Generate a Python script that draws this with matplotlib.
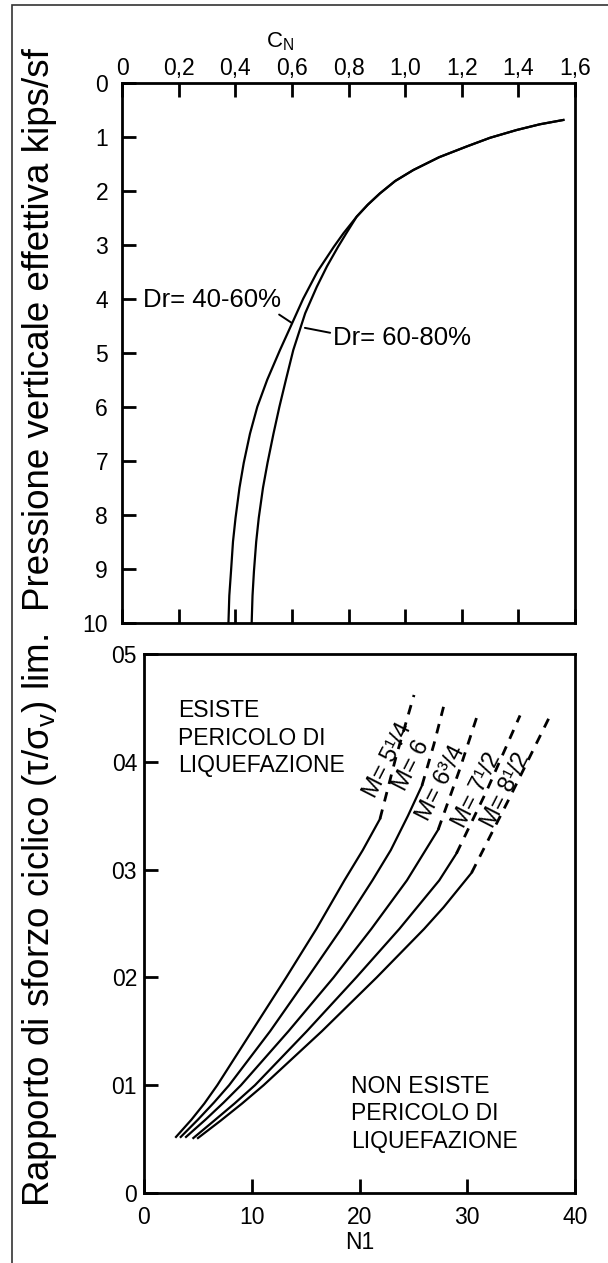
import matplotlib
matplotlib.use('Agg')
import matplotlib.pyplot as plt
from matplotlib.patches import Rectangle

plt.rcParams['font.family'] = ['Liberation Sans', 'DejaVu Sans']
plt.rcParams['mathtext.default'] = 'regular'

# --- dati grafico superiore (C_N vs pressione verticale) ---
dr40_p = [0.69, 0.77, 0.876, 1.02, 1.18, 1.38, 1.617, 1.82, 2.05, 2.26, 2.48, 2.79,
          3.04, 3.5, 4.0, 4.5, 4.95, 5.5, 6.0, 6.5, 7.04, 7.5, 8.06, 8.5, 9.05, 9.5, 10.0]
dr40_cn = [1.559, 1.476, 1.394, 1.30, 1.218, 1.12, 1.029, 0.965, 0.911, 0.868, 0.829, 0.782,
           0.748, 0.69, 0.64, 0.597, 0.558, 0.513, 0.478, 0.452, 0.43, 0.415, 0.401, 0.392,
           0.385, 0.379, 0.376]
dr60_p = [0.69, 0.77, 0.876, 1.02, 1.18, 1.38, 1.617, 1.82, 2.05, 2.26, 2.48, 2.79,
          3.04, 3.4, 3.78, 4.27, 4.95, 5.5, 6.0, 6.5, 7.04, 7.5, 8.06, 8.5, 9.05, 9.5, 10.0]
dr60_cn = [1.559, 1.476, 1.394, 1.30, 1.218, 1.12, 1.029, 0.965, 0.911, 0.868, 0.829, 0.792,
           0.763, 0.724, 0.688, 0.647, 0.605, 0.579, 0.556, 0.535, 0.514, 0.498, 0.483, 0.474,
           0.466, 0.461, 0.458]
cn_ticks = [0, 0.2, 0.4, 0.6, 0.8, 1.0, 1.2, 1.4, 1.6]
cn_labels = ['0', '0,2', '0,4', '0,6', '0,8', '1,0', '1,2', '1,4', '1,6']
p_ticks = list(range(0, 11))

# --- dati grafico inferiore (N1 vs rapporto di sforzo ciclico) ---
m_labels = ['M= 5¹/4', 'M= 6', 'M= 6³/4', 'M= 7¹/2', 'M= 8¹/2']
solid_n = [
    [2.97, 4.4, 5.6, 6.8, 10.0, 13.2, 16.0, 18.6, 20.3, 21.9],
    [3.41, 5.0, 6.5, 7.9, 11.7, 15.2, 18.3, 21.2, 22.9, 24.5, 25.8],
    [3.9, 5.7, 7.4, 9.0, 13.4, 17.6, 21.1, 24.4, 27.3],
    [4.58, 6.5, 8.4, 10.3, 15.1, 19.7, 23.7, 27.4, 29.0],
    [5.01, 7.1, 9.1, 11.1, 16.5, 21.6, 26.0, 27.8, 30.4],
]
solid_t = [
    [0.052, 0.068, 0.083, 0.1, 0.15, 0.2, 0.245, 0.29, 0.318, 0.347],
    [0.052, 0.068, 0.084, 0.1, 0.15, 0.2, 0.245, 0.29, 0.318, 0.35, 0.378],
    [0.052, 0.068, 0.084, 0.1, 0.15, 0.2, 0.245, 0.29, 0.337],
    [0.051, 0.067, 0.083, 0.1, 0.15, 0.2, 0.245, 0.29, 0.315],
    [0.051, 0.067, 0.083, 0.1, 0.15, 0.2, 0.245, 0.265, 0.297],
]
dash_n = [
    [21.9, 23.4, 25.06],
    [25.8, 26.9, 27.8],
    [27.3, 29.3, 31.0],
    [29.0, 31.8, 34.9],
    [30.4, 33.9, 37.7],
]
dash_t = [
    [0.347, 0.405, 0.462],
    [0.378, 0.416, 0.451],
    [0.337, 0.393, 0.445],
    [0.315, 0.373, 0.443],
    [0.297, 0.366, 0.443],
]
label_n = [22.6, 24.85, 27.6, 30.95, 33.6]
label_t = [0.401, 0.397, 0.38, 0.374, 0.374]
n_ticks = [0, 10, 20, 30, 40]
t_ticks = [0, 0.1, 0.2, 0.3, 0.4, 0.5]
t_labels = ['0', '01', '02', '03', '04', '05']

W, H = 608, 1263
fig = plt.figure(figsize=(W / 100, H / 100), dpi=100)

# cornice
fig.patches.append(Rectangle((11.7 / W, -0.1), 1.2, 1 - 4.6 / H + 0.1, transform=fig.transFigure,
                             fill=False, edgecolor='#333333', lw=1.2))

lw_sp = 2.0
# ===== grafico superiore =====
ax1 = fig.add_axes([122 / W, 1 - 622.7 / H, 453 / W, 540 / H])
ax1.plot(dr40_cn, dr40_p, color='black', lw=1.6)
ax1.plot(dr60_cn, dr60_p, color='black', lw=1.6)
ax1.set_xlim(0, 1.6)
ax1.set_ylim(10, 0)
ax1.xaxis.set_ticks_position('both')
ax1.set_xticks(cn_ticks)
ax1.set_xticklabels(cn_labels)
ax1.set_yticks(p_ticks)
ax1.tick_params(axis='x', direction='in', length=10, width=2, labeltop=True, labelbottom=False,
                labelsize=16.5, pad=2)
ax1.tick_params(axis='y', direction='in', length=10, width=2, labelsize=16.5, pad=10)
for s in ax1.spines.values():
    s.set_linewidth(lw_sp)
ax1.annotate('Dr= 40-60%', xy=(0.6, 4.45), xytext=(0.074, 4.02), fontsize=18.5,
             va='center', ha='left',
             arrowprops=dict(arrowstyle='-', color='black', lw=1.4, shrinkA=0, shrinkB=0,
                             relpos=(0.93, 0.1)))
ax1.annotate('Dr= 60-80%', xy=(0.646, 4.54), xytext=(0.745, 4.73), fontsize=18.5,
             va='center', ha='left',
             arrowprops=dict(arrowstyle='-', color='black', lw=1.4, shrinkA=0, shrinkB=0,
                             relpos=(0.0, 0.7)))
fig.text(280 / W, 1 - 42 / H, 'C$_N$', fontsize=16, ha='center', va='center')
fig.text(40 / W, 1 - 330 / H, 'Pressione verticale effettiva kips/sf', fontsize=26.5,
         rotation=90, ha='center', va='center')

# ===== grafico inferiore =====
ax2 = fig.add_axes([144 / W, 1 - 1193 / H, 431 / W, 539 / H])
for i in range(5):
    ax2.plot(solid_n[i], solid_t[i], color='black', lw=1.6)
    ax2.plot(dash_n[i], dash_t[i], color='black', lw=2.0, linestyle=(0, (3.5, 3)))
    ax2.text(label_n[i], label_t[i], m_labels[i], fontsize=17, rotation=63,
             ha='center', va='center', rotation_mode='anchor')
ax2.set_xlim(0, 40)
ax2.set_ylim(0, 0.5)
ax2.set_xticks(n_ticks)
ax2.set_yticks(t_ticks)
ax2.set_yticklabels(t_labels)
ax2.tick_params(axis='both', direction='in', length=10, width=2, labelsize=16.5)
ax2.tick_params(axis='x', pad=9)
ax2.tick_params(axis='y', pad=5)
for s in ax2.spines.values():
    s.set_linewidth(lw_sp)
ax2.set_xlabel('N1', fontsize=16.5, labelpad=2)
ax2.text(3.16, 0.422, 'ESISTE\nPERICOLO DI\nLIQUEFAZIONE', fontsize=16.5, va='center',
         ha='left', linespacing=1.25)
ax2.text(19.2, 0.0733, 'NON ESISTE\nPERICOLO DI\nLIQUEFAZIONE', fontsize=16.5, va='center',
         ha='left', linespacing=1.25)
fig.text(40 / W, 1 - 921 / H, 'Rapporto di sforzo ciclico (τ/σ$_v$) lim.', fontsize=26.5,
         rotation=90, ha='center', va='center')

fig.savefig('out.png', dpi=100)
